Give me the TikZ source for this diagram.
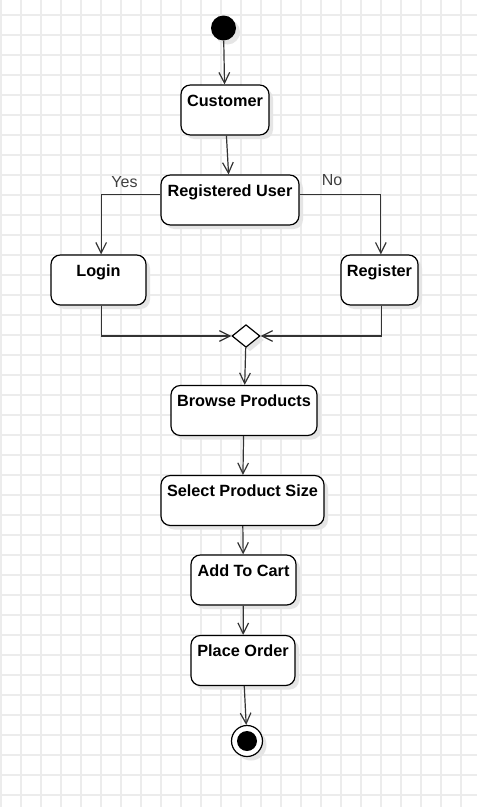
\documentclass[tikz,border=0pt]{standalone}
\usepackage{fontspec}
\setmainfont{Liberation Sans}
\usetikzlibrary{shapes.geometric,shadows,arrows.meta}

\begin{document}
\begin{tikzpicture}[x=0.75pt,y=-0.75pt]
\tikzset{
    act/.style={draw,rounded corners=7pt,fill=white,line width=0.9pt,inner sep=0pt,
        minimum height=37.5pt,text height=15.75pt,text depth=21.75pt,
        font=\fontsize{12.2}{14}\selectfont\bfseries,
        drop shadow={shadow xshift=3pt,shadow yshift=-3pt,fill=black!10,opacity=1}},
    flow/.style={draw=black!80,line width=0.9pt,-{Straight Barb[length=8pt,width=8pt]}},
    guard/.style={font=\fontsize{12}{14}\selectfont,text=black!75}
}
\useasboundingbox (0,0) rectangle (477,807);
\fill[white] (0,0) rectangle (477,807);

% grid
\foreach \gx in {1,21,...,477} \draw[gray!15,line width=1pt] (\gx,0) -- (\gx,807);
\foreach \gy in {15,35,...,807} \draw[gray!15,line width=1pt] (0,\gy) -- (477,\gy);

\node[circle,fill=black,inner sep=0pt,minimum size=18.75pt,
    drop shadow={shadow xshift=3pt,shadow yshift=-3pt,fill=black!10,opacity=1}] (start) at (223.5,28) {};

\node[act,minimum width=66pt] (customer) at (225,110) {Customer};
\node[act,minimum width=103.5pt] (reguser) at (230,200) {Registered User};
\node[act,minimum width=71.25pt] (login) at (98.5,280) {Login};
\node[act,minimum width=57.75pt] (register) at (379.5,280) {Register};

\node[diamond,draw,fill=white,line width=0.9pt,inner sep=0pt,minimum width=21pt,minimum height=17pt,
    drop shadow={shadow xshift=3pt,shadow yshift=-3pt,fill=black!10,opacity=1}] (merge) at (246,336) {};

\node[act,minimum width=109.5pt] (browse) at (244,410.5) {Browse Products};
\node[act,minimum width=122.25pt] (select) at (242.5,500.5) {Select Product Size};
\node[act,minimum width=78.75pt] (addcart) at (243.5,580) {Add To Cart};
\node[act,minimum width=78pt] (order) at (243,660.5) {Place Order};

\node[circle,draw,fill=white,line width=0.9pt,inner sep=0pt,minimum size=23.25pt,
    drop shadow={shadow xshift=3pt,shadow yshift=-3pt,fill=black!10,opacity=1}] (stop) at (247,741) {};
\node[circle,fill=black,inner sep=0pt,minimum size=15pt] (stopdot) at (stop) {};

\draw[flow] (start) -- (customer);
\draw[flow] (customer) -- (reguser);
\draw[flow] ([yshift=4pt]reguser.west) -| ([xshift=2pt]login.north);
\draw[flow] ([yshift=4pt]reguser.east) -| ([xshift=1pt]register.north);
\node[guard] (yes) at (124.5,182) {Yes};
\node[guard] (no) at (332,180) {No};

\draw[flow] ([xshift=2pt]login.south) |- (merge.west);
\draw[flow] ([xshift=1.5pt]register.south) |- (merge.east);
\draw[flow] (merge) -- (browse);
\draw[flow] (browse) -- (select);
\draw[flow] (select) -- (addcart);
\draw[flow] (addcart) -- (order);
\draw[flow] (order) -- (stop);

\end{tikzpicture}
\end{document}
